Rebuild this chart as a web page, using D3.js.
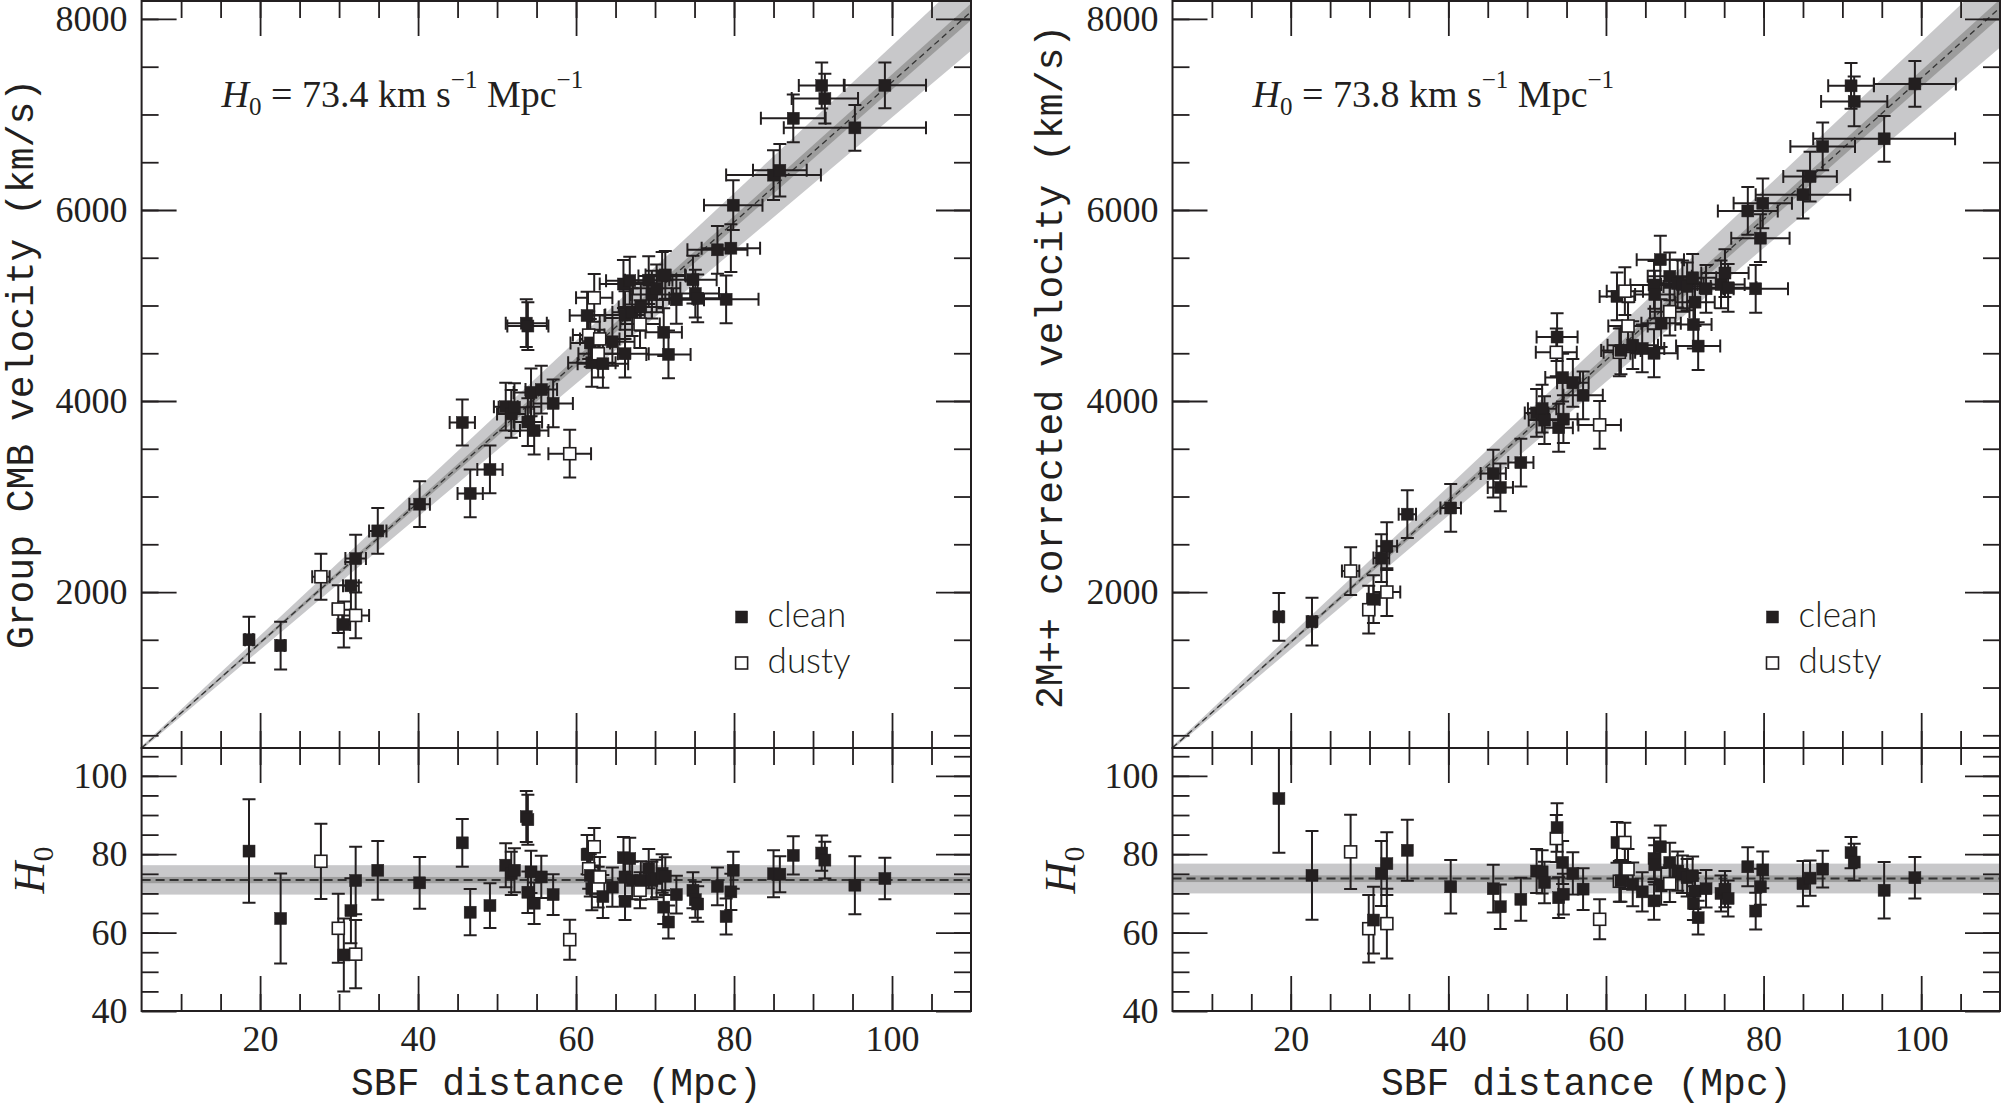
<!DOCTYPE html>
<html><head><meta charset="utf-8">
<script src="https://cdn.jsdelivr.net/npm/d3@7"></script>
<style>
html,body{margin:0;padding:0;background:#fff;}
svg{display:block;}
</style></head><body>
<svg id="chart" width="2002" height="1110"></svg>
<script>
// ---------------- DATA ----------------
const distDomain = [5, 110];
const velDomain = [367, 8188];
const h0Domain = [40, 107.1];
const distMajorTicks = [20, 40, 60, 80, 100];
const velMajorTicks = [2000, 4000, 6000, 8000];
const h0MajorTicks = [40, 60, 80, 100];
const fitH0 = [73.4, 73.8];
const fitOuter = [[69.7, 77.2], [70.0, 77.6]];
const fitInner = [[72.6, 74.2], [72.9, 74.6]];
const yTitles = ["Group CMB velocity (km/s)", "2M++ corrected velocity (km/s)"];
const xTitle = "SBF distance (Mpc)";
const h0Labels = ["73.4", "73.8"];
const legendLabels = ["clean", "dusty"];

// Left panel (Group CMB velocity)
const distL = [18.6,22.6,27.7,29.9,30.6,31.5,32.1,32.1,34.9,40.2,45.6,46.6,49.1,51.1,51.8,52.2,53.7,53.9,53.9,54.3,54.7,55.6,57.1,59.2,61.4,61.6,61.8,62.0,62.3,62.8,63.0,63.4,64.6,66.0,66.2,66.2,66.8,67.1,68.1,68.2,69.2,69.6,70.2,70.9,71.1,71.3,71.7,72.7,74.8,75.1,75.4,77.9,79.0,79.6,79.9,85.0,85.8,87.5,91.1,91.5,95.3,99.1];
const distErrL = [0.5,0.5,1.1,0.7,0.8,1.0,1.3,1.7,1.1,1.3,1.6,1.6,1.6,1.5,1.8,2.0,2.6,2.6,1.8,2.2,1.8,2.0,2.5,2.7,2.2,2.0,2.5,3.0,2.3,2.5,2.5,3.2,2.8,3.0,2.5,3.0,3.0,2.5,2.5,2.8,3.0,2.7,3.0,3.0,2.3,2.5,2.8,3.5,3.0,3.0,3.6,3.8,4.1,3.7,3.7,6.0,3.4,4.1,2.9,4.2,9.0,5.2];
const velL = [1500,1440,2160,1822,1660,2065,2350,1755,2640,2920,3775,3032,3283,3940,3865,3935,4815,4785,3780,4090,3690,4120,3975,3448,4895,4690,4608,4400,5080,4495,4650,4390,4620,5225,4900,4495,5260,4930,4805,4985,5265,5115,5180,5310,4720,5320,4488,5060,5270,5125,5075,5583,5065,5600,6050,6365,6415,6960,7303,7166,6860,7305];
const velErrL = [240,250,240,250,240,250,250,240,240,240,240,250,250,250,250,250,250,250,250,250,250,250,250,250,250,250,250,250,250,250,250,250,250,250,250,250,250,250,250,250,250,250,250,250,250,250,250,250,250,250,250,250,250,250,260,260,275,250,240,260,240,240];
const h0L = [80.8,63.6,78.2,61.1,54.3,65.6,73.3,54.5,75.9,72.7,82.9,65.2,66.9,77.2,75.1,75.9,89.6,88.8,70.3,75.5,67.5,74.2,69.7,58.2,79.9,76.3,74.6,71.2,81.9,71.6,74.2,69.2,71.6,79.1,74.2,68.0,78.9,73.3,70.8,73.3,76.3,73.3,73.8,75.1,66.5,74.4,62.7,69.7,70.8,68.4,67.3,71.8,64.1,70.4,75.9,75.0,74.9,79.7,80.3,78.5,72.1,73.8];
const h0ErrL = [13.2,11.5,9.6,8.8,9.3,8.3,8.6,8.7,7.5,6.6,6.1,5.9,5.7,5.6,5.5,5.6,6.5,6.4,5.3,5.4,5.3,5.4,5.2,5.1,5.0,5.1,5.4,5.5,4.8,5.2,5.1,5.5,5.0,5.3,5.0,4.8,5.3,4.8,4.6,4.9,5.0,4.8,4.8,4.9,4.3,4.8,4.2,4.8,4.6,4.6,4.5,4.8,4.6,4.6,4.7,6.0,4.6,4.9,4.5,4.7,7.4,5.3];
const dustyL = [0,0,1,1,0,0,0,1,0,0,0,0,0,0,0,0,0,0,0,0,0,0,0,1,0,1,0,0,1,1,1,0,0,0,0,0,0,0,1,0,0,0,0,0,0,0,0,0,0,0,0,0,0,0,0,0,0,0,0,0,0,0];

// Right panel (2M++ corrected velocity)
const distR = [18.5,22.7,27.6,29.9,30.5,31.5,32.2,32.2,34.8,40.3,45.7,46.6,49.2,51.2,51.9,52.2,53.7,53.8,54.0,54.5,54.6,55.8,57.1,59.2,61.4,61.7,61.9,62.4,62.8,63.4,64.6,66.1,66.1,66.2,66.9,67.0,68.1,68.1,69.1,69.7,70.3,71.0,71.1,71.3,71.7,72.7,74.6,75.1,75.5,78.0,79.0,79.6,79.9,85.0,85.9,87.5,91.1,91.5,95.3,99.2];
const distErrR = [0.5,0.5,1.1,0.7,0.8,1.0,1.3,1.7,1.1,1.3,1.6,1.6,1.6,1.5,1.8,2.0,2.6,2.6,1.8,2.2,1.8,2.0,2.5,2.7,2.2,2.0,2.5,2.3,2.5,3.2,2.8,3.0,3.0,2.5,3.0,2.5,2.5,2.8,3.0,2.7,3.0,3.0,2.3,2.5,2.8,3.5,3.0,3.0,3.6,3.8,4.1,3.7,3.7,6.0,3.4,4.1,2.9,4.2,9.0,5.2];
const velR = [1740,1690,2220,1815,1925,2355,2480,2000,2815,2880,3240,3095,3355,3875,3920,3800,4510,4670,3720,4245,3810,4190,4060,3750,5095,4510,4530,5150,4785,4585,4550,4500,5215,5115,5480,4815,4935,5305,5230,5220,5200,5290,4800,5035,4575,5175,5220,5340,5185,5990,5175,5705,6070,6160,6350,6665,7300,7137,6745,7320];
const velErrR = [250,250,250,250,250,250,250,250,250,250,250,250,250,250,250,250,250,250,250,250,250,250,250,250,250,250,250,250,250,250,250,250,250,250,250,250,250,250,250,250,250,250,250,250,250,250,250,250,250,250,250,250,260,250,260,250,240,260,240,240];
const h0R = [94.2,74.6,80.6,61.0,63.2,75.1,77.6,62.3,81.0,71.7,71.2,66.6,68.5,75.7,75.5,72.8,84.0,86.8,68.9,77.9,69.8,75.1,71.1,63.4,83.0,73.1,73.2,83.0,76.2,72.3,70.4,68.1,78.9,77.3,81.9,71.9,72.5,77.9,75.7,74.9,74.0,74.5,67.5,70.6,63.8,71.2,70.0,71.1,68.7,76.8,65.5,71.7,76.0,72.5,73.9,76.2,80.4,78.0,70.8,74.0];
const h0ErrR = [13.8,11.3,9.5,8.6,8.5,8.3,8.0,8.9,7.8,6.8,6.1,5.7,5.5,5.6,5.5,5.3,6.0,6.2,5.2,5.5,5.2,5.4,5.3,5.1,5.2,5.2,5.3,5.0,5.1,5.6,5.0,4.8,5.3,5.0,5.4,4.8,4.7,5.0,5.0,4.8,4.8,4.9,4.3,4.6,4.3,4.8,4.6,4.6,4.6,5.0,4.7,4.6,4.7,5.8,4.5,4.7,4.0,4.7,7.2,5.3];
const dustyR = [0,0,1,1,0,0,0,1,0,0,0,0,0,0,0,0,1,0,0,0,0,0,0,1,0,1,0,1,1,0,0,0,0,0,0,0,1,0,0,0,0,0,0,0,0,0,0,0,0,0,0,0,0,0,0,0,0,0,0,0];

// ---------------- LAYOUT / STYLE ----------------
const INK = "#231f20";
const TOP = 1, MID = 748, BOT = 1011;
const CAP = 13, MSIZE = 12;
const SERIF = "'Liberation Serif', 'Times New Roman', serif";
const MONO = "'Liberation Mono', 'DejaVu Sans Mono', monospace";
const SANS = "Lato, 'DejaVu Sans', sans-serif";

const panels = [
  {x0: 141.6, x1: 971, dist: distL, distErr: distErrL, vel: velL, velErr: velErrL, h0: h0L, h0Err: h0ErrL, dusty: dustyL,
   yTitleX: 33, hLabelX: 44},
  {x0: 1172.5, x1: 2000, dist: distR, distErr: distErrR, vel: velR, velErr: velErrR, h0: h0R, h0Err: h0ErrR, dusty: dustyR,
   yTitleX: 1062, hLabelX: 1075}
];

const svg = d3.select("#chart");
const defs = svg.append("defs");

function axisPair(g, orient, scale, major, minor, transform, labels) {
  const mk = {left: d3.axisLeft, right: d3.axisRight, top: d3.axisTop, bottom: d3.axisBottom}[orient];
  const aMinor = mk(scale).tickValues(minor).tickSize(-17).tickSizeOuter(0).tickFormat("");
  const aMajor = mk(scale).tickValues(major).tickSize(-35).tickSizeOuter(0).tickPadding(14)
    .tickFormat(labels ? d3.format("d") : "");
  const ga = g.append("g").attr("transform", transform).call(aMinor);
  const gb = g.append("g").attr("transform", transform).call(aMajor);
  [ga, gb].forEach(s => {
    s.select(".domain").remove();
    s.selectAll(".tick line").attr("stroke", INK).attr("stroke-width", 1.8);
  });
  gb.selectAll(".tick text").attr("fill", INK)
    .style("font-family", SERIF).style("font-size", "36px");
}

panels.forEach((p, idx) => {
  const g = svg.append("g");
  const x = d3.scaleLinear().domain(distDomain).range([p.x0, p.x1]);
  const yV = d3.scaleLinear().domain(velDomain).range([MID, TOP]);
  const yH = d3.scaleLinear().domain(h0Domain).range([BOT, MID]);

  const cTop = "ct" + idx, cBot = "cb" + idx;
  defs.append("clipPath").attr("id", cTop).append("rect")
    .attr("x", p.x0).attr("y", TOP).attr("width", p.x1 - p.x0).attr("height", MID - TOP);
  defs.append("clipPath").attr("id", cBot).append("rect")
    .attr("x", p.x0).attr("y", MID).attr("width", p.x1 - p.x0).attr("height", BOT - MID);

  const pts = p.dist.map((d, i) => ({d, de: p.distErr[i], v: p.vel[i], ve: p.velErr[i],
    h: p.h0[i], he: p.h0Err[i], dusty: p.dusty[i]}));

  // ----- top panel -----
  const gt = g.append("g").attr("clip-path", `url(#${cTop})`);
  const bandArea = (lo, hi) => d3.area().x(d => x(d)).y0(d => yV(lo * d)).y1(d => yV(hi * d));
  gt.append("path").datum(distDomain).attr("d", bandArea(fitOuter[idx][0], fitOuter[idx][1]))
    .attr("fill", "#c8c8ca");
  gt.append("path").datum(distDomain).attr("d", bandArea(fitInner[idx][0], fitInner[idx][1]))
    .attr("fill", "#9d9d9d");
  gt.append("path").datum(distDomain)
    .attr("d", d3.line().x(d => x(d)).y(d => yV(fitH0[idx] * d)))
    .attr("fill", "none").attr("stroke", "#333").attr("stroke-width", 1.3).attr("stroke-dasharray", "6,4");

  const c = CAP / 2;
  gt.append("g").attr("fill", "none").attr("stroke", INK).attr("stroke-width", 2)
    .selectAll("path").data(pts).join("path")
    .attr("d", d => {
      const cx = x(d.d), cy = yV(d.v), ya = yV(d.v + d.ve), yb = yV(d.v - d.ve);
      const xa = x(d.d - d.de), xb = x(d.d + d.de);
      return `M${cx},${ya}V${yb}M${cx - c},${ya}H${cx + c}M${cx - c},${yb}H${cx + c}` +
             `M${xa},${cy}H${xb}M${xa},${cy - c}V${cy + c}M${xb},${cy - c}V${cy + c}`;
    });
  gt.append("g").selectAll("rect").data(pts).join("rect")
    .attr("x", d => x(d.d) - MSIZE / 2).attr("y", d => yV(d.v) - MSIZE / 2)
    .attr("width", MSIZE).attr("height", MSIZE)
    .attr("fill", d => d.dusty ? "#fff" : INK)
    .attr("stroke", INK).attr("stroke-width", d => d.dusty ? 1.6 : 0.5);

  // ----- bottom panel -----
  const gb = g.append("g").attr("clip-path", `url(#${cBot})`);
  gb.append("rect").attr("x", p.x0).attr("width", p.x1 - p.x0)
    .attr("y", yH(fitOuter[idx][1])).attr("height", yH(fitOuter[idx][0]) - yH(fitOuter[idx][1]))
    .attr("fill", "#c8c8ca");
  gb.append("rect").attr("x", p.x0).attr("width", p.x1 - p.x0)
    .attr("y", yH(fitInner[idx][1])).attr("height", yH(fitInner[idx][0]) - yH(fitInner[idx][1]))
    .attr("fill", "#9d9d9d");
  gb.append("line").attr("x1", p.x0).attr("x2", p.x1)
    .attr("y1", yH(fitH0[idx])).attr("y2", yH(fitH0[idx]))
    .attr("stroke", "#333").attr("stroke-width", 2).attr("stroke-dasharray", "9,5");
  gb.append("g").attr("fill", "none").attr("stroke", INK).attr("stroke-width", 2)
    .selectAll("path").data(pts).join("path")
    .attr("d", d => {
      const cx = x(d.d), ya = yH(d.h + d.he), yb = yH(d.h - d.he);
      return `M${cx},${ya}V${yb}M${cx - c},${ya}H${cx + c}M${cx - c},${yb}H${cx + c}`;
    });
  gb.append("g").selectAll("rect").data(pts).join("rect")
    .attr("x", d => x(d.d) - MSIZE / 2).attr("y", d => yH(d.h) - MSIZE / 2)
    .attr("width", MSIZE).attr("height", MSIZE)
    .attr("fill", d => d.dusty ? "#fff" : INK)
    .attr("stroke", INK).attr("stroke-width", d => d.dusty ? 1.6 : 0.5);

  // ----- axes -----
  const distMinor = d3.range(10, 110, 5);
  const velMinor = d3.range(500, 8001, 500);
  const h0Minor = d3.range(45, 106, 5);
  axisPair(g, "left", yV, velMajorTicks, velMinor, `translate(${p.x0},0)`, true);
  axisPair(g, "right", yV, velMajorTicks, velMinor, `translate(${p.x1},0)`, false);
  axisPair(g, "top", x, distMajorTicks, distMinor, `translate(0,${TOP})`, false);
  axisPair(g, "bottom", x, distMajorTicks, distMinor, `translate(0,${MID})`, false);
  axisPair(g, "left", yH, h0MajorTicks, h0Minor, `translate(${p.x0},0)`, true);
  axisPair(g, "right", yH, h0MajorTicks, h0Minor, `translate(${p.x1},0)`, false);
  axisPair(g, "top", x, distMajorTicks, distMinor, `translate(0,${MID})`, false);
  axisPair(g, "bottom", x, distMajorTicks, distMinor, `translate(0,${BOT})`, true);

  // frames
  g.append("rect").attr("x", p.x0).attr("y", TOP).attr("width", p.x1 - p.x0).attr("height", MID - TOP)
    .attr("fill", "none").attr("stroke", INK).attr("stroke-width", 2);
  g.append("rect").attr("x", p.x0).attr("y", MID).attr("width", p.x1 - p.x0).attr("height", BOT - MID)
    .attr("fill", "none").attr("stroke", INK).attr("stroke-width", 2);

  // titles
  g.append("text").attr("transform", `translate(${p.yTitleX},${idx === 0 ? 364 : 367}) rotate(-90)`)
    .attr("text-anchor", "middle").attr("fill", INK)
    .style("font-family", MONO).style("font-size", "38px").text(yTitles[idx]);
  g.append("text").attr("x", (p.x0 + p.x1) / 2).attr("y", 1095)
    .attr("text-anchor", "middle").attr("fill", INK)
    .style("font-family", MONO).style("font-size", "38px").text(xTitle);
  const hl = g.append("text").attr("transform", `translate(${p.hLabelX},870) rotate(-90)`)
    .attr("text-anchor", "middle").attr("fill", INK).style("font-family", SERIF).style("font-size", "44px");
  hl.append("tspan").style("font-style", "italic").text("H");
  hl.append("tspan").attr("dy", 9).style("font-size", "30px").text("0");

  // H0 annotation
  const ann = g.append("text").attr("x", p.x0 + 80).attr("y", 107).attr("fill", INK)
    .style("font-family", SERIF).style("font-size", "38px");
  ann.append("tspan").style("font-style", "italic").text("H");
  ann.append("tspan").attr("dy", 8).style("font-size", "25px").text("0");
  ann.append("tspan").attr("dy", -8).text(` = ${h0Labels[idx]} km s`);
  ann.append("tspan").attr("dy", -19).style("font-size", "25px").text("\u22121");
  ann.append("tspan").attr("dy", 19).text(" Mpc");
  ann.append("tspan").attr("dy", -19).style("font-size", "25px").text("\u22121");

  // legend
  const lg = g.append("g").attr("transform", `translate(${p.x0 + 600},0)`);
  legendLabels.forEach((lab, k) => {
    const cy = k === 0 ? 617 : 663;
    lg.append("rect").attr("x", -6).attr("y", cy - 6).attr("width", 12).attr("height", 12)
      .attr("fill", k === 0 ? INK : "#fff").attr("stroke", INK).attr("stroke-width", k === 0 ? 0.5 : 1.6);
    lg.append("text").attr("x", 26).attr("y", cy + 10).attr("fill", INK)
      .style("font-family", SANS).style("font-size", "35px").style("font-weight", 300).text(lab);
  });
});
</script>
</body></html>
